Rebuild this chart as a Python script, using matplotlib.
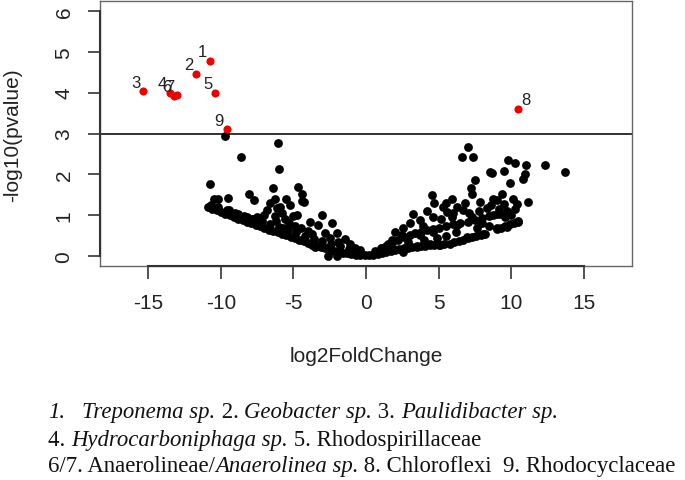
import matplotlib
matplotlib.use("Agg")
import matplotlib.pyplot as plt

# significant taxa (red, labelled)
sig_x = [-10.76, -11.72, -15.36, -13.52, -10.39, -13.24, -13.01, 10.46, -9.61]
sig_y = [4.78, 4.46, 4.03, 4.00, 3.99, 3.92, 3.93, 3.61, 3.10]
sig_lab = ["1", "2", "3", "4", "5", "6", "7", "8", "9"]

# non-significant taxa, left arm
left_x = [-10.9, -10.6, -10.3, -10.0, -9.7, -9.4, -9.1, -8.8, -8.5, -8.2, -7.9, -7.6, -7.3,
          -7.0, -6.7, -6.4, -6.1, -5.8, -5.5, -5.2, -4.9, -4.6, -4.3, -4.0, -3.7, -3.4,
          -3.1, -2.8, -2.5, -2.2, -1.9, -1.6, -1.3, -1.0, -0.7, -0.4, -0.1,
          -10.7, -10.2, -9.6, -9.0, -8.4, -7.8, -7.2, -6.6, -6.0, -5.4, -4.8, -4.2, -3.6,
          -3.0, -2.4, -1.8, -1.2, -0.6,
          -9.72, -6.05, -8.62, -6.0, -10.78, -6.44, -4.67, -10.5, -10.2, -9.5, -8.07, -7.7,
          -6.28, -5.54, -4.43, -9.43, -6.85, -6.16, -5.24, -8.23, -7.31, -5.59, -5.01,
          -4.39, -4.25, -4.78, -3.06, -2.37, -3.86, -3.29, -2.83, -2.02, -1.45, -3.5,
          -3.06, -4.43, -2.6, -2.0, -0.76, -6.6, -7.0, -6.3, -5.8, -5.3, -4.9, -4.5,
          -4.0, -5.7, -6.2, -7.5, -3.7, -2.5, -1.9, -1.1, -0.4, -5.93, -8.8, -7.9]
left_y = [1.20, 1.16, 1.12, 1.08, 1.04, 1.00, 0.96, 0.92, 0.88, 0.84, 0.80, 0.76, 0.73,
          0.69, 0.65, 0.62, 0.58, 0.55, 0.52, 0.48, 0.44, 0.40, 0.36, 0.32, 0.28, 0.25,
          0.22, 0.19, 0.16, 0.13, 0.11, 0.09, 0.07, 0.05, 0.04, 0.03, 0.02,
          1.25, 1.20, 1.12, 1.05, 0.98, 0.90, 0.85, 0.78, 0.72, 0.64, 0.58, 0.50, 0.42,
          0.36, 0.30, 0.24, 0.18, 0.12,
          2.94, 2.76, 2.43, 2.14, 1.76, 1.66, 1.68, 1.39, 1.39, 1.43, 1.52, 1.37,
          1.41, 1.41, 1.34, 1.12, 1.14, 1.17, 1.25, 0.96, 0.94, 0.92, 0.99,
          1.53, 1.33, 1.00, 1.00, 0.82, 0.84, 0.76, 0.56, 0.56, 0.42, 0.23,
          0.27, 0.39, 0.00, 0.00, 0.19, 1.30, 1.00, 0.98, 1.05, 0.80, 0.75, 0.70,
          0.62, 0.70, 0.85, 0.95, 0.55, 0.45, 0.35, 0.30, 0.15, 1.21, 1.02, 0.92]

# non-significant taxa, right arm
right_x = [0.2, 0.5, 0.8, 1.1, 1.4, 1.7, 2.0, 2.3, 2.6, 2.9, 3.2, 3.5, 3.8, 4.1, 4.4, 4.7,
           5.0, 5.4, 5.8, 6.1, 6.4, 6.7, 7.0, 7.3, 7.6, 7.9, 8.1, 9.0, 9.3, 9.6, 9.9, 10.2,
           10.5,
           0.6, 1.0, 1.4, 1.8, 2.2, 2.6, 3.0, 3.4, 3.8, 4.2, 4.6, 5.0, 5.5, 6.0, 6.5, 7.0,
           7.5, 8.0, 8.5, 9.0,
           7.06, 6.6, 7.4, 8.55, 7.52, 7.24, 7.33, 7.86, 4.53, 5.91, 4.7, 5.5, 3.26, 3.72,
           4.63, 5.56, 6.71, 7.29, 8.32, 8.78, 6.26, 7.63, 2.57, 3.72, 4.64, 6.94, 8.2,
           5.1, 2.57, 3.5, 4.41, 1.5, 2.46, 1.77, 1.08,
           9.82, 10.28, 11.03, 12.34, 13.72, 8.67, 9.52, 10.97, 10.8, 9.93, 9.36, 9.01,
           10.16, 11.19, 9.5, 10.4, 8.78, 9.24, 9.01, 9.7, 10.5,
           3.0, 3.9, 4.2, 5.2, 5.9, 6.3, 6.0, 6.8, 7.1, 7.8, 8.0, 8.5, 8.6, 9.2, 9.7, 10.0,
           10.3, 9.6, 5.3, 2.0, 2.9, 4.0, 5.5, 6.2, 4.9]
right_y = [0.02, 0.04, 0.06, 0.09, 0.11, 0.13, 0.15, 0.17, 0.19, 0.21, 0.23, 0.24, 0.25,
           0.26, 0.27, 0.28, 0.28, 0.30, 0.31, 0.34, 0.37, 0.40, 0.44, 0.47, 0.50, 0.53,
           0.55, 0.66, 0.70, 0.74, 0.78, 0.82, 0.86,
           0.12, 0.20, 0.26, 0.33, 0.40, 0.46, 0.52, 0.56, 0.60, 0.64, 0.66, 0.70, 0.74,
           0.78, 0.80, 0.84, 0.88, 0.94, 0.99, 1.02,
           2.67, 2.43, 2.43, 2.06, 1.86, 1.66, 1.53, 1.33, 1.49, 1.41, 1.30, 1.30, 1.04,
           0.88, 0.97, 1.09, 1.12, 0.96, 1.17, 1.41, 0.76, 0.68, 0.68, 0.51, 0.60, 0.47,
           0.55, 0.27, 0.11, 0.23, 0.31, 0.31, 0.51, 0.39, 0.19,
           2.35, 2.27, 2.24, 2.23, 2.06, 2.04, 2.08, 2.00, 1.88, 1.80, 1.53, 1.37,
           1.41, 1.33, 1.28, 1.28, 1.00, 1.04, 0.68, 0.72, 0.84,
           0.80, 0.75, 1.10, 0.90, 0.95, 1.20, 1.05, 1.30, 1.05, 1.10, 0.80, 0.75, 1.25,
           1.15, 1.10, 1.00, 1.15, 0.95, 1.20, 0.60, 0.35, 0.40, 0.50, 0.60, 0.45]

x_ticks = [-15, -10, -5, 0, 5, 10, 15]
y_ticks = [0, 1, 2, 3, 4, 5, 6]
threshold = 3

# caption lines: (text, italic) runs
caption = [
    [("1.", True), ("   ", False), ("Treponema sp.", True), (" 2. ", False),
     ("Geobacter sp.", True), (" 3. ", False), ("Paulidibacter sp.", True)],
    [("4. ", False), ("Hydrocarboniphaga sp.", True), (" 5. Rhodospirillaceae", False)],
    [("6/7. Anaerolineae/", False), ("Anaerolinea sp.", True),
     (" 8. Chloroflexi  9. Rhodocyclaceae", False)],
]

plt.rcParams["font.family"] = "Liberation Sans"

W, H = 685, 481
fig = plt.figure(figsize=(W / 100, H / 100), dpi=100)
ax = fig.add_axes([100 / W, 1 - 267 / H, 532 / W, 265 / H])

ax.scatter(left_x + right_x, left_y + right_y, s=40, color="black", linewidths=0, zorder=2)
ax.scatter(sig_x, sig_y, s=34, color="#ee0000", linewidths=0, zorder=3)
for x, y, lab in zip(sig_x, sig_y, sig_lab):
    dx = 6 if x > 0 else -5.5
    ax.annotate(lab, (x, y), xytext=(dx, 6.5), textcoords="offset points",
                ha="center", va="center", fontsize=12, color="#222222")

ax.axhline(threshold, color="#333333", lw=1.4, zorder=1)

ax.set_xlim(-18.34, 18.34)
ax.set_ylim(-0.24, 6.24)
for sp in ax.spines.values():
    sp.set_color("#666666")
    sp.set_linewidth(1.0)
ax.plot([-15, 15], [-0.24, -0.24], color="#333333", lw=1.5, clip_on=False, zorder=4)
ax.plot([-18.34, -18.34], [0, 6], color="#333333", lw=1.5, clip_on=False, zorder=4)

ax.set_xticks(x_ticks)
ax.set_xticklabels([str(t) for t in x_ticks])
ax.set_yticks(y_ticks)
ax.set_yticklabels([str(t) for t in y_ticks], rotation=90, va="center")
ax.tick_params(axis="both", direction="out", length=9, width=1.2, color="#333333",
               labelsize=15, labelcolor="#222222")
ax.tick_params(axis="x", pad=10.5)
ax.tick_params(axis="y", pad=10)

fig.text(366 / W, 1 - 356 / H, "log2FoldChange", ha="center", va="center",
         fontsize=15, color="#222222")
fig.text(12.5 / W, 1 - 135 / H, "-log10(pvalue)", ha="center", va="center",
         rotation=90, fontsize=15, color="#222222")

# caption with mixed italic runs
renderer = fig.canvas.get_renderer()
line_y = [418, 446, 472]
for runs, yb in zip(caption, line_y):
    xpos = 48
    for txt, it in runs:
        t = fig.text(xpos / W, 1 - yb / H, txt, ha="left", va="baseline",
                     fontsize=16.4, family="Liberation Serif",
                     style="italic" if it else "normal", color="#111111")
        bb = t.get_window_extent(renderer)
        xpos += bb.width

fig.savefig("out.png", dpi=100)
